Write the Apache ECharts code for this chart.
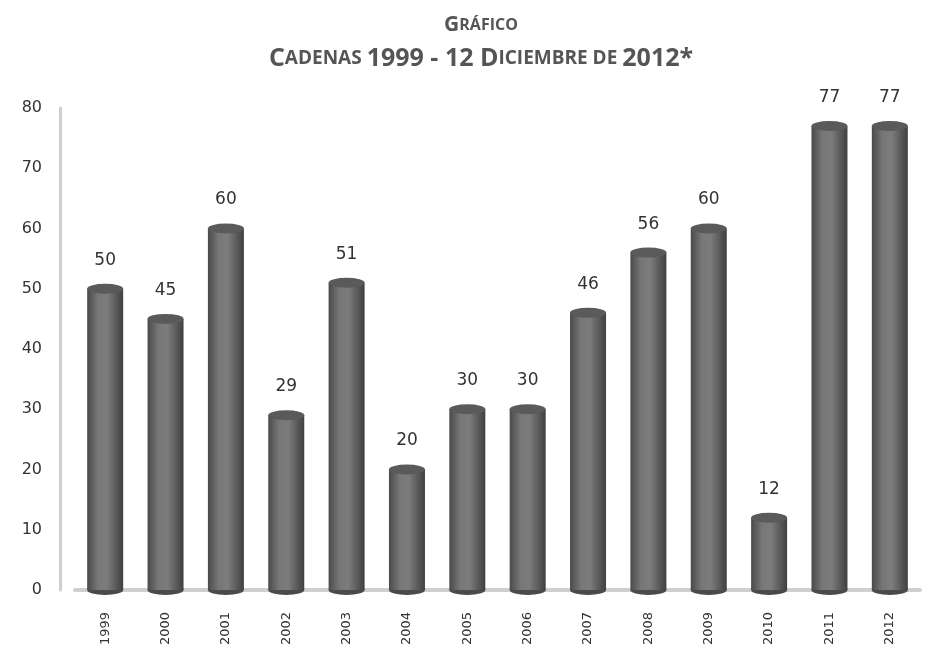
<!DOCTYPE html>
<html><head><meta charset="utf-8">
<script src="https://cdn.jsdelivr.net/npm/echarts@6/dist/echarts.min.js"></script>
<style>html,body{margin:0;padding:0;background:#fff}#c{width:943px;height:665px}</style>
</head><body><div id="c"></div>
<script>
const years = ['1999','2000','2001','2002','2003','2004','2005','2006','2007','2008','2009','2010','2011','2012'];
const values = [50,45,60,29,51,20,30,30,46,56,60,12,77,77];
const yTicks = [0,10,20,30,40,50,60,70,80];

const chart = echarts.init(document.getElementById('c'));
const barGrad = new echarts.graphic.LinearGradient(0,0,1,0,[
  {offset:0,color:'#4a4a4a'},{offset:0.3,color:'#777'},{offset:0.55,color:'#7c7c7c'},{offset:1,color:'#404040'}]);
const ff = 'Liberation Sans Narrow, Open Sans';
chart.setOption({
  animation:false,
  title:{
    left:476, textAlign:'center', top:3,
    text:'{b|G}{s|RÁFICO}\n{B|C}{S|ADENAS} {B|1999 - 12 D}{S|ICIEMBRE DE} {B|2012*}',
    textStyle:{
      rich:{
        b:{fontFamily:ff,fontWeight:'bold',fontSize:21,color:'#555',lineHeight:34},
        s:{fontFamily:ff,fontWeight:'bold',fontSize:16,color:'#555',lineHeight:34},
        B:{fontFamily:ff,fontWeight:'bold',fontSize:25,color:'#555',lineHeight:34},
        S:{fontFamily:ff,fontWeight:'bold',fontSize:19,color:'#555',lineHeight:34}
      }
    }
  },
  grid:{left:75,right:23,top:108,bottom:75},
  xAxis:{
    type:'category', data:years,
    axisLine:{lineStyle:{color:'#cfcfcf',width:4}},
    axisTick:{show:false},
    axisLabel:{rotate:90,color:'#333',fontSize:13,fontFamily:'DejaVu Sans',margin:22}
  },
  yAxis:{
    type:'value', min:0, max:80, interval:10, offset:15,
    axisLine:{show:true,lineStyle:{color:'#d0d0d0',width:3}},
    axisTick:{show:false},
    splitLine:{show:false},
    axisLabel:{color:'#333',fontSize:16,fontFamily:'DejaVu Sans',margin:18,
      formatter:v=>yTicks.includes(v)?String(v):''}
  },
  series:[
    {type:'bar',data:values,barWidth:36,itemStyle:{color:barGrad},z:2,
     label:{show:true,position:'top',distance:20,color:'#333',fontSize:17,fontFamily:'DejaVu Sans'}},
    {type:'pictorialBar',data:values,symbol:'circle',symbolSize:[36,10],symbolPosition:'end',
     symbolOffset:[0,'-50%'],itemStyle:{color:'#5a5a5a'},z:3,silent:true},
    {type:'pictorialBar',data:values,symbol:'circle',symbolSize:[36,10],symbolPosition:'start',
     symbolOffset:[0,'50%'],itemStyle:{color:'#4a4a4a'},z:1,silent:true}
  ]
});
</script></body></html>
